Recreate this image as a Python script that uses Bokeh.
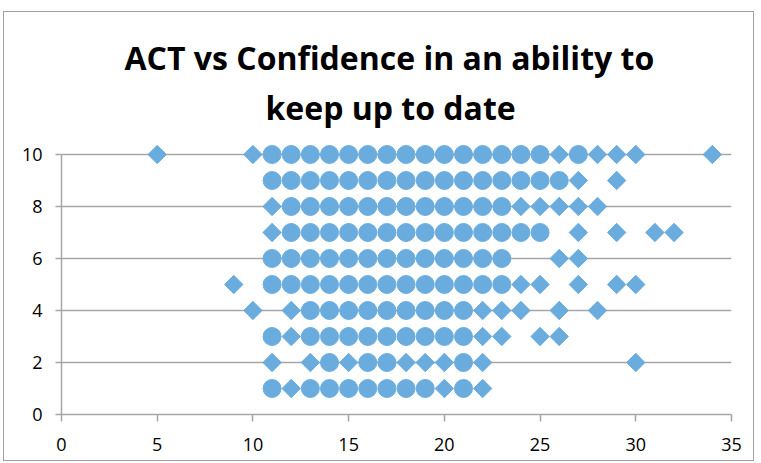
import numpy as np
from bokeh.plotting import figure
from bokeh.models import ColumnDataSource, Range1d, FixedTicker, Title
from bokeh.embed import file_html
from bokeh.resources import INLINE

# ACT score (x) and number of overlapping responses at each point, per confidence level (y)
conf_levels = [10, 9, 8, 7, 6, 5, 4, 3, 2, 1]

act_10 = [5, 10] + list(range(11, 26)) + [26, 27, 28, 29, 30, 34]
n_10 = [1, 1] + [2] * 15 + [1, 2, 1, 1, 1, 1]

act_9 = list(range(11, 27)) + [27, 29]
n_9 = [2] * 16 + [1, 1]

act_8 = [11] + list(range(12, 24)) + [24, 25, 26, 27, 28]
n_8 = [1] + [2] * 12 + [1, 1, 1, 1, 1]

act_7 = [11] + list(range(12, 26)) + [27, 29, 31, 32]
n_7 = [1] + [2] * 14 + [1, 1, 1, 1]

act_6 = list(range(11, 24)) + [26, 27]
n_6 = [2] * 13 + [1, 1]

act_5 = [9] + list(range(11, 24)) + [24, 25, 27, 29, 30]
n_5 = [1] + [2] * 13 + [1, 1, 1, 1, 1]

act_4 = [10, 12] + list(range(13, 22)) + [22, 23, 24, 26, 28]
n_4 = [1, 1] + [2] * 9 + [1, 1, 1, 1, 1]

act_3 = [11, 12] + list(range(13, 22)) + [22, 23, 25, 26]
n_3 = [2, 1] + [2] * 9 + [1, 1, 1, 1]

act_2 = [11, 13, 14, 15, 16, 17, 18, 19, 20, 21, 22, 30]
n_2 = [1, 1, 2, 1, 2, 2, 1, 1, 1, 2, 1, 1]

act_1 = [11, 12, 13, 14, 15, 16, 17, 18, 19, 20, 21, 22]
n_1 = [2, 1, 2, 2, 2, 2, 2, 2, 2, 1, 2, 1]

acts = [act_10, act_9, act_8, act_7, act_6, act_5, act_4, act_3, act_2, act_1]
counts = [n_10, n_9, n_8, n_7, n_6, n_5, n_4, n_3, n_2, n_1]

x_ticks = [0, 5, 10, 15, 20, 25, 30, 35]
y_ticks = [0, 2, 4, 6, 8, 10]
title_line1 = "ACT vs Confidence in an ability to"
title_line2 = "keep up to date"

xs, ys, ns = [], [], []
for c, a_list, n_list in zip(conf_levels, acts, counts):
    for a, n in zip(a_list, n_list):
        xs.append(a); ys.append(c); ns.append(n)
xs = np.array(xs); ys = np.array(ys); ns = np.array(ns)

single = ColumnDataSource(dict(x=xs[ns == 1], y=ys[ns == 1]))
multi = ColumnDataSource(dict(x=xs[ns > 1], y=ys[ns > 1]))

FILL = "#6aacde"
GRID = "#a6a6a6"

# y range extended a little above 10 so the top row of markers is not clipped;
# the axis line is bounded to 0..10 as in the reference
p = figure(width=751, height=450, output_backend="svg", toolbar_location=None,
           x_range=Range1d(0, 35), y_range=Range1d(0, 10.5), title=None,
           min_border_left=57, min_border_right=24, min_border_top=129, min_border_bottom=48)
p.outline_line_color = None
p.background_fill_color = "white"
p.border_fill_color = "white"
p.styles = {"border": "1px solid #a0a0a0", "margin-left": "3px", "margin-top": "11px"}

t2 = Title(text=title_line2, align="left", text_font="Open Sans", text_font_style="bold",
           text_font_size="32px", text_color="black", standoff=25, offset=204)
t1 = Title(text=title_line1, align="left", text_font="Open Sans", text_font_style="bold",
           text_font_size="32px", text_color="black", standoff=-14, offset=63)
p.add_layout(t2, "above")
p.add_layout(t1, "above")

p.xgrid.grid_line_color = None
p.ygrid.grid_line_color = GRID
p.ygrid.grid_line_width = 1.5
p.ygrid.ticker = FixedTicker(ticks=y_ticks)

for ax in (p.xaxis, p.yaxis):
    ax.axis_line_color = GRID
    ax.axis_line_width = 1.5
    ax.major_tick_line_color = GRID
    ax.major_tick_line_width = 1.5
    ax.major_tick_in = 0
    ax.minor_tick_line_color = None
    ax.major_label_text_font = "Open Sans"
    ax.major_label_text_font_size = "18px"
    ax.major_label_text_color = "black"

p.xaxis.ticker = FixedTicker(ticks=x_ticks)
p.yaxis.ticker = FixedTicker(ticks=y_ticks)
p.yaxis.bounds = (0, 10)
p.xaxis.major_tick_out = 7
p.yaxis.major_tick_out = 6
p.xaxis.major_label_standoff = 16
p.yaxis.major_label_standoff = 13

p.scatter("x", "y", source=multi, marker="circle", size=18,
          fill_color=FILL, line_color=FILL, line_width=1)
p.scatter("x", "y", source=single, marker="square", angle=np.pi / 4, size=13,
          fill_color=FILL, line_color=FILL, line_width=1)

open("out.html", "w").write(file_html(p, INLINE))
